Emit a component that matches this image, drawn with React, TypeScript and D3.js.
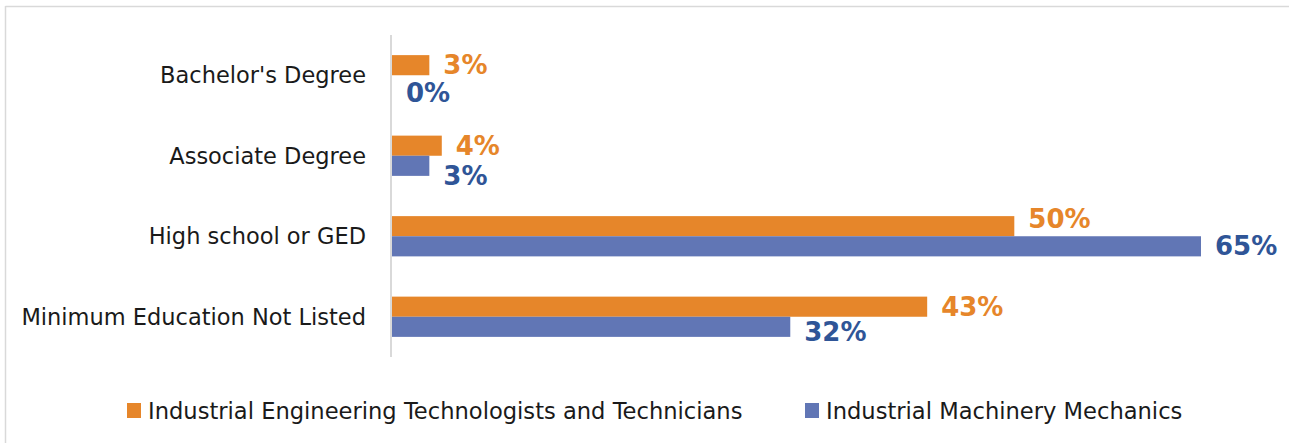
import React from "react";
import * as d3 from "d3";

const categories = [
  "Bachelor's Degree",
  "Associate Degree",
  "High school or GED",
  "Minimum Education Not Listed",
];
const seriesNames = [
  "Industrial Engineering Technologists and Technicians",
  "Industrial Machinery Mechanics",
];
const engineeringTech = [0.03, 0.04, 0.5, 0.43];
const machineryMech = [0.0, 0.03, 0.65, 0.32];

// manual vertical nudges of the data labels (as in the original chart)
const nudgeOrange = [0, 0, -7, 0];
const nudgeBlue = [8, 10, 0, 5];

const W = 1289;
const H = 443;
const ORANGE = "#E6862A";
const BLUE_BAR = "#6176B5";
const BLUE_TXT = "#2F5597";
const ORANGE_TXT = "#E6862A";
const FONT = "'DejaVu Sans', sans-serif";

export default function App() {
  const x = d3.scaleLinear().domain([0, 0.65]).range([392, 1201]);
  const y = d3
    .scaleBand<string>()
    .domain(categories)
    .range([35, 357])
    .paddingInner(0.5)
    .paddingOuter(0.25);
  const inner = d3
    .scaleBand<number>()
    .domain([0, 1])
    .range([0, y.bandwidth()]);
  const fmt = d3.format(".0%");
  const series = [engineeringTech, machineryMech];
  const barColors = [ORANGE, BLUE_BAR];
  const txtColors = [ORANGE_TXT, BLUE_TXT];
  const nudges = [nudgeOrange, nudgeBlue];

  return (
    <svg
      width={W}
      height={H}
      style={{ position: "absolute", left: 0, top: 0, background: "#fff" }}
    >
      <rect x={0} y={0} width={W} height={H} fill="#fff" />
      {/* chart border */}
      <line x1={5.5} x2={W} y1={6.5} y2={6.5} stroke="#d9d9d9" strokeWidth={1.5} />
      <line x1={5.5} x2={5.5} y1={6} y2={H} stroke="#d9d9d9" strokeWidth={1.5} />

      {/* bars */}
      {series.map((vals, s) =>
        vals.map((v, i) => (
          <rect
            key={`b${s}-${i}`}
            x={x(0)}
            y={(y(categories[i]) as number) + (inner(s) as number)}
            width={x(v) - x(0)}
            height={inner.bandwidth()}
            fill={barColors[s]}
          />
        ))
      )}

      {/* vertical axis line */}
      <line
        x1={391}
        x2={391}
        y1={y.range()[0] as number}
        y2={y.range()[1] as number}
        stroke="#d9d9d9"
        strokeWidth={2}
      />

      {/* category labels */}
      {categories.map((c) => (
        <text
          key={c}
          x={366}
          y={(y(c) as number) + y.bandwidth() / 2}
          textAnchor="end"
          dominantBaseline="central"
          fontFamily={FONT}
          fontSize={22.5}
          fill="#1a1a1a"
        >
          {c}
        </text>
      ))}

      {/* data labels */}
      {series.map((vals, s) =>
        vals.map((v, i) => (
          <text
            key={`l${s}-${i}`}
            x={x(v) + 14}
            y={
              (y(categories[i]) as number) +
              (inner(s) as number) +
              inner.bandwidth() / 2 +
              nudges[s][i]
            }
            dominantBaseline="central"
            fontFamily={FONT}
            fontWeight="bold"
            fontSize={26}
            fill={txtColors[s]}
          >
            {fmt(v)}
          </text>
        ))
      )}

      {/* legend */}
      {seriesNames.map((n, s) => {
        const lx = s === 0 ? 127 : 805;
        return (
          <g key={n}>
            <rect x={lx} y={403} width={14} height={15} fill={barColors[s]} />
            <text
              x={lx + 21}
              y={411}
              dominantBaseline="central"
              fontFamily={FONT}
              fontSize={22.6}
              fill="#1a1a1a"
            >
              {n}
            </text>
          </g>
        );
      })}
    </svg>
  );
}
